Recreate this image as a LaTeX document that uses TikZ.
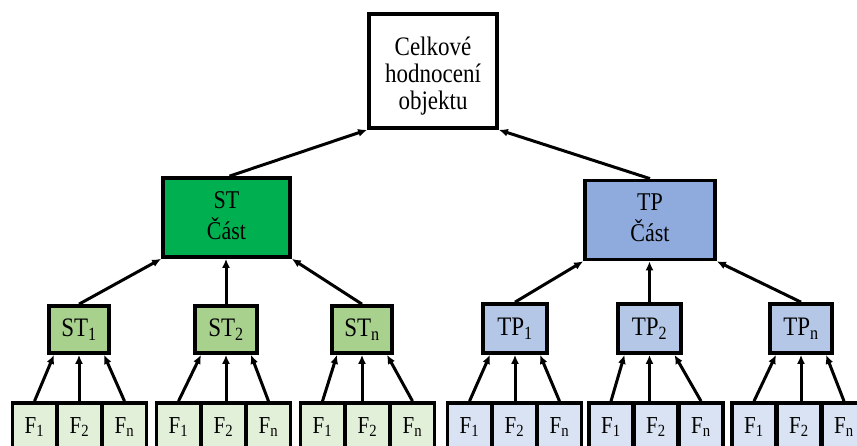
\documentclass[tikz,border=0pt]{standalone}
\usepackage{fontspec}
\usepackage{graphicx}
\setmainfont{Liberation Serif}
\usetikzlibrary{arrows.meta}
\definecolor{stpart}{HTML}{00B050}
\definecolor{stsub}{HTML}{A9D18E}
\definecolor{stfac}{HTML}{E2F0D9}
\definecolor{tppart}{HTML}{8FAADC}
\definecolor{tpsub}{HTML}{B4C7E7}
\definecolor{tpfac}{HTML}{DAE3F3}
% slightly taller lettering
\newcommand\talltext[1]{\scalebox{1}[1.16]{#1}}
\newcommand\lines[1]{\talltext{\begin{tabular}{@{}c@{}}#1\end{tabular}}}
\begin{document}
\begin{tikzpicture}[x=1pt,y=-1pt,
  box/.style={draw=black, line width=3.7pt, inner sep=0pt, align=center,
    font=\fontsize{23}{23}\selectfont},
  fac/.style={box, minimum width=44pt, minimum height=48pt,
    font=\fontsize{21}{21}\selectfont},
  conn/.style={line width=3pt, -{Latex[length=9pt,width=8pt]}},
]
\useasboundingbox (0,0) rectangle (857,446);
\clip (0,0) rectangle (857,446);

% root
\node[box, fill=white, minimum width=128pt, minimum height=114pt] (root) at (433,71)
  {\raisebox{-6pt}[\height][\depth]{\lines{Celkové\\hodnocení\\objektu}}};

% two main parts
\node[box, fill=stpart, minimum width=127pt, minimum height=79pt,
  font=\fontsize{22}{26}\selectfont] (stc) at (226.5,217.5) {\lines{ST\\Část}};
\node[box, fill=tppart, minimum width=130pt, minimum height=79pt,
  font=\fontsize{22}{26}\selectfont] (tpc) at (650,220) {\lines{TP\\Část}};

% sub-criteria
\node[box, fill=stsub, minimum width=60pt, minimum height=47pt] (st1) at (79,329.5) {\talltext{ST\textsubscript{1}}};
\node[box, fill=stsub, minimum width=62pt, minimum height=47pt] (st2) at (226,329.5) {\talltext{ST\textsubscript{2}}};
\node[box, fill=stsub, minimum width=60pt, minimum height=47pt] (stn) at (362,329.5) {\talltext{ST\textsubscript{n}}};
\node[box, fill=tpsub, minimum width=64pt, minimum height=49pt] (tp1) at (515,328.5) {\talltext{TP\textsubscript{1}}};
\node[box, fill=tpsub, minimum width=63pt, minimum height=49pt] (tp2) at (649.5,328.5) {\talltext{TP\textsubscript{2}}};
\node[box, fill=tpsub, minimum width=62pt, minimum height=49pt] (tpn) at (801,328.5) {\talltext{TP\textsubscript{n}}};

% factors
\foreach \g/\x/\c in {s1/34.5/stfac, s2/178.5/stfac, sn/322.5/stfac,
                      t1/469.5/tpfac, t2/611/tpfac, tn/754/tpfac} {
  \node[fac, fill=\c] (f\g a) at (\x,427) {\talltext{F\textsubscript{1}}};
  \node[fac, fill=\c] (f\g b) at (\x+45,427) {\talltext{F\textsubscript{2}}};
  \node[fac, fill=\c] (f\g c) at (\x+90,427) {\talltext{F\textsubscript{n}}};
}

% factors -> sub-criteria
\foreach \g/\s in {s1/st1, s2/st2, sn/stn, t1/tp1, t2/tp2, tn/tpn} {
  \draw[conn] (f\g a.north) -- ([xshift=-25]\s.south);
  \draw[conn] (\s.south |- f\g b.north) -- (\s.south);
  \draw[conn] (f\g c.north) -- ([xshift=25]\s.south);
}

% sub-criteria -> parts
\draw[conn] (st1.north) -- (stc.south west);
\draw[conn] (st2.north) -- (st2.north |- stc.south);
\draw[conn] (stn.north) -- (stc.south east);
\draw[conn] (tp1.north) -- (tpc.south west);
\draw[conn] (tp2.north) -- (tp2.north |- tpc.south);
\draw[conn] (tpn.north) -- (tpc.south east);

% parts -> root
\draw[conn] ([xshift=3]stc.north) -- (root.south west);
\draw[conn] (tpc.north) -- (root.south east);
\end{tikzpicture}
\end{document}
